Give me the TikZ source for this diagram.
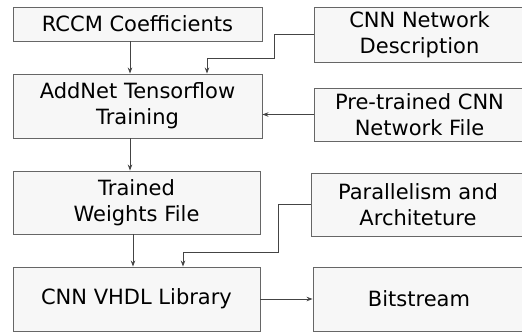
\documentclass[tikz,border=0pt]{standalone}
\usepackage{fontspec}
\setmainfont{DejaVu Sans}
\usetikzlibrary{arrows.meta}

\definecolor{boxfill}{HTML}{F7F7F7}
\definecolor{boxline}{HTML}{666666}
\definecolor{wire}{HTML}{444444}

\def\blist{{(137.5,-24)/rccm/249/34/{RCCM Coefficients}},
  {(419.5,-34.5)/desc/211/55/{CNN Network\\Description}},
  {(137.5,-106)/addnet/249/64/{AddNet Tensorflow\\Training}},
  {(419.5,-114.5)/pretrained/211/53/{Pre-trained CNN\\Network File}},
  {(136.5,-202.5)/trained/247/63/{Trained\\Weights File}},
  {(418,-204.5)/parallel/214/63/{Parallelism and\\Architeture}},
  {(136.5,-299)/vhdl/247/64/{CNN VHDL Library}},
  {(419,-299)/bits/212/64/{Bitstream}}}
\tikzstyle{block} = [draw=boxline, fill=boxfill, line width=0.9pt, inner sep=0pt, align=center,
  font=\fontsize{21}{26}\selectfont]
\tikzstyle{arr} = [draw=wire, line width=0.8pt, -{Stealth[length=6pt,width=4.5pt]}]

\begin{document}
\begin{tikzpicture}[x=1pt,y=1pt]
  \useasboundingbox (0,0) rectangle (522,-335);
  \foreach \pos/\name/\w/\h/\txt in \blist {
    \node[block, minimum width=\w pt, minimum height=\h pt] (\name) at \pos {\txt};
  }

  % left column
  \path[arr] ([xshift=-7.5pt]rccm.south) -- ([xshift=-7.5pt]rccm.south |- addnet.north);
  \path[arr] ([xshift=-7.5pt]addnet.south) -- ([xshift=-7.5pt]addnet.south |- trained.north);
  \path[arr] ([xshift=-3.5pt]trained.south) -- ([xshift=-3.5pt]trained.south |- vhdl.north);
  \path[arr] (vhdl.east) -- (bits.west);

  % side inputs
  \path[arr] (desc.west) -| ++(-39pt,-24pt) -| ([xshift=69.5pt]addnet.north);
  \path[arr] (pretrained.west) -- (pretrained.west -| addnet.east);
  \path[arr] (parallel.west) -| ++(-32pt,-47.5pt) -| ([xshift=46.5pt]vhdl.north);
\end{tikzpicture}
\end{document}
